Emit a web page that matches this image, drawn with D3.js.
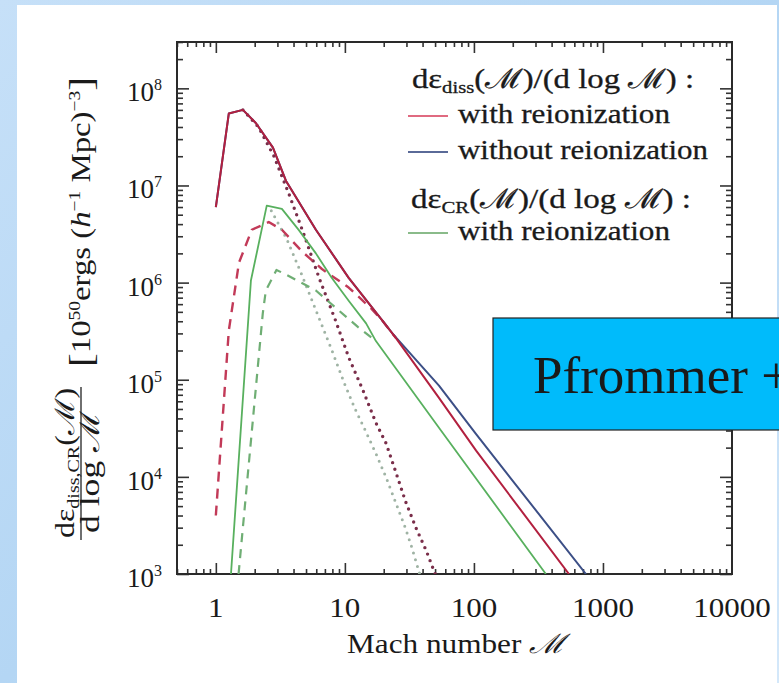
<!DOCTYPE html>
<html>
<head>
<meta charset="utf-8">
<script src="https://cdn.jsdelivr.net/npm/d3@7"></script>
<style>
  html, body { margin: 0; padding: 0; }
  body { width: 779px; height: 683px; overflow: hidden; }
  text { font-family: "Liberation Serif", "Times New Roman", "DejaVu Serif", serif; fill: #1a1a1a; }
</style>
</head>
<body>
<div id="chart"></div>
<script>
// Mach number ticks and decade exponents on the energy axis
var xTickValues = [1, 10, 100, 1000, 10000];
var xTickLabels = ["1", "10", "100", "1000", "10000"];
var yTickExps = [3, 4, 5, 6, 7, 8];

// [Mach number, energy per log Mach bin]
var dissWithReion = [[1, 6.0e6], [1.26, 5.5e7], [1.62, 6.0e7], [2.04, 4.4e7], [2.77, 2.45e7],
  [3.49, 1.12e7], [5.96, 3.5e6], [10.7, 1.12e6], [19.4, 4.1e5], [24.8, 2.7e5],
  [53.6, 6.5e4], [104, 1.86e4], [545, 1.0e3]];
var dissNoReion = [[1, 6.0e6], [1.26, 5.5e7], [1.62, 6.0e7], [2.04, 4.4e7], [2.77, 2.45e7],
  [3.49, 1.12e7], [5.96, 3.5e6], [10.7, 1.12e6], [19.4, 4.1e5], [23.6, 2.95e5],
  [53.6, 8.7e4], [104, 2.75e4], [738, 1.0e3]];
var crWithReion = [[1.31, 1.0e3], [1.87, 1.05e6], [2.48, 6.2e6], [3.25, 5.75e6], [4.4, 3.47e6],
  [5.96, 2.0e6], [7.9, 1.12e6], [10.7, 6.5e5], [14.6, 3.8e5], [17.4, 2.5e5],
  [53.6, 3.2e4], [361, 1.0e3]];
var dissDashed = [[1.0, 4.0e3], [1.26, 3.2e5], [1.51, 1.6e6], [1.9, 3.5e6], [2.57, 4.2e6],
  [3.25, 3.5e6], [4.64, 2.1e6], [6.64, 1.38e6], [10.7, 8.9e5], [15.8, 5.5e5], [19.4, 4.1e5], [24.8, 2.7e5]];
var crDashed = [[1.5, 1.0e3], [2.31, 4.8e5], [2.44, 8.3e5], [2.95, 1.35e6], [3.55, 1.2e6],
  [5.96, 8.3e5], [8.5, 5.5e5], [12.6, 3.5e5], [17.4, 2.5e5]];
var dissDotted = [[1.62, 6.0e7], [2.14, 4.0e7], [2.82, 2.0e7], [3.72, 7.9e6], [4.79, 3.2e6],
  [6.31, 1.12e6], [8.51, 4.0e5], [10.7, 1.7e5], [13.8, 7.8e4], [17.4, 3.6e4], [20.9, 2.2e4],
  [25.1, 1.07e4], [29.5, 5.6e3], [35.5, 3.0e3], [42.7, 1.74e3], [50.1, 1.0e3]];
var crDotted = [[2.69, 5.5e6], [3.55, 2.8e6], [4.57, 1.26e6], [6.03, 5.0e5], [7.94, 2.0e5],
  [10.0, 8.9e4], [12.0, 5.0e4], [14.5, 2.95e4], [17.4, 1.74e4], [20.9, 9.8e3], [25.1, 5.2e3],
  [29.5, 2.95e3], [33.1, 1.86e3], [38.0, 1.0e3]];

var legendRows = ["with reionization", "without reionization", "with reionization"];

var svgWidth = 779;
var svgHeight = 683;

// plot frame in page pixels
var frame = { left: 177, right: 732, top: 42, bottom: 574 };

var svg = d3.select("#chart").append("svg")
  .attr("width", svgWidth)
  .attr("height", svgHeight);

// slide background
var defs = svg.append("defs");
var grad = defs.append("linearGradient").attr("id", "bg").attr("x1", 0).attr("y1", 0).attr("x2", 1).attr("y2", 1);
grad.append("stop").attr("offset", "0%").attr("stop-color", "#c6e0f8");
grad.append("stop").attr("offset", "50%").attr("stop-color", "#b4d6f4");
grad.append("stop").attr("offset", "100%").attr("stop-color", "#d4e8fa");
svg.append("rect").attr("width", svgWidth).attr("height", svgHeight).attr("fill", "url(#bg)");
svg.append("rect").attr("x", 17).attr("y", 5).attr("width", 760).attr("height", 678).attr("fill", "#ffffff");

defs.append("clipPath").attr("id", "plotclip").append("rect")
  .attr("x", frame.left).attr("y", frame.top)
  .attr("width", frame.right - frame.left).attr("height", frame.bottom - frame.top);

var x = d3.scaleLog().domain([0.5, 10000]).range([frame.left, frame.right]);
var y = d3.scaleLog().domain([1e3, 3e8]).range([frame.bottom, frame.top]);

// minor tick values
var xMinor = [];
[0.1, 1, 10, 100, 1000].forEach(function(d) {
  for (var k = 2; k <= 9; k++) { var v = d * k; if (v >= 0.5 && v < 10000) xMinor.push(v); }
});
var yMinor = [];
[1e3, 1e4, 1e5, 1e6, 1e7, 1e8].forEach(function(d) {
  for (var k = 2; k <= 9; k++) { var v = d * k; if (v <= 3e8) yMinor.push(v); }
});
var yMajor = yTickExps.map(function(e) { return Math.pow(10, e); });

function tickAxis(axis, transform) {
  var g = svg.append("g").attr("transform", transform).call(axis);
  g.select(".domain").remove();
  g.selectAll(".tick line").attr("stroke", "#333").attr("stroke-width", 1.6);
  g.selectAll(".tick text").remove();
  return g;
}

// ticks on all four sides, pointing inward
var xMajorInside = xTickValues.filter(function(d) { return d < 10000; });
tickAxis(d3.axisBottom(x).tickValues(xMajorInside).tickSize(-11), "translate(0," + frame.bottom + ")");
tickAxis(d3.axisBottom(x).tickValues(xMinor).tickSize(-5), "translate(0," + frame.bottom + ")");
tickAxis(d3.axisTop(x).tickValues(xMajorInside).tickSize(-11), "translate(0," + frame.top + ")");
tickAxis(d3.axisTop(x).tickValues(xMinor).tickSize(-5), "translate(0," + frame.top + ")");
tickAxis(d3.axisLeft(y).tickValues(yMajor).tickSize(-12), "translate(" + frame.left + ",0)");
tickAxis(d3.axisLeft(y).tickValues(yMinor).tickSize(-6), "translate(" + frame.left + ",0)");
tickAxis(d3.axisRight(y).tickValues(yMajor).tickSize(-12), "translate(" + frame.right + ",0)");
tickAxis(d3.axisRight(y).tickValues(yMinor).tickSize(-6), "translate(" + frame.right + ",0)");

svg.append("rect")
  .attr("x", frame.left).attr("y", frame.top)
  .attr("width", frame.right - frame.left).attr("height", frame.bottom - frame.top)
  .attr("fill", "none").attr("stroke", "#2a2a2a").attr("stroke-width", 2);

// x tick labels (the picture is stretched a little sideways)
svg.selectAll(".xlab").data(xTickValues).enter().append("text")
  .attr("x", function(d) { return x(d); })
  .attr("y", 617)
  .attr("text-anchor", "middle")
  .attr("font-size", 28)
  .attr("textLength", function(d, i) { return xTickLabels[i].length * 15.5; })
  .attr("lengthAdjust", "spacingAndGlyphs")
  .text(function(d, i) { return xTickLabels[i]; });

// y tick labels 10^n
var ylab = svg.selectAll(".ylab").data(yTickExps).enter().append("text")
  .attr("x", 127)
  .attr("y", function(d) { return y(Math.pow(10, d)) + 13; })
  .attr("font-size", 27);
ylab.append("tspan").text("10");
ylab.append("tspan").attr("dy", -11).attr("font-size", 16).text(function(d) { return d; });

// x axis title
var xt = svg.append("text").attr("x", 456).attr("y", 653).attr("text-anchor", "middle").attr("font-size", 27)
  .attr("textLength", 218).attr("lengthAdjust", "spacingAndGlyphs");
xt.append("tspan").text("Mach number ");
xt.append("tspan").attr("font-style", "italic").text("ℳ");

// y axis title: fraction plus units, rotated
var numer = svg.append("text").attr("transform", "translate(74,463) rotate(-90)").attr("text-anchor", "middle").attr("font-size", 27)
  .attr("textLength", 150).attr("lengthAdjust", "spacingAndGlyphs");
numer.append("tspan").text("dε");
numer.append("tspan").attr("dy", 5).attr("font-size", 17).text("diss,CR");
numer.append("tspan").attr("dy", -5).text("(ℳ)");
svg.append("line").attr("x1", 81).attr("x2", 81).attr("y1", 387).attr("y2", 540).attr("stroke", "#222").attr("stroke-width", 1.3);
svg.append("text").attr("transform", "translate(99,472) rotate(-90)").attr("text-anchor", "middle").attr("font-size", 27)
  .attr("textLength", 122).attr("lengthAdjust", "spacingAndGlyphs").text("d log ℳ");
var units = svg.append("text").attr("transform", "translate(90,222) rotate(-90)").attr("text-anchor", "middle").attr("font-size", 27)
  .attr("textLength", 290).attr("lengthAdjust", "spacingAndGlyphs");
units.append("tspan").attr("font-size", 34).attr("dy", 2).text("[");
units.append("tspan").attr("dy", -2).text("10");
units.append("tspan").attr("dy", -10).attr("font-size", 16).text("50");
units.append("tspan").attr("dy", 10).text("ergs (");
units.append("tspan").attr("font-style", "italic").text("h");
units.append("tspan").attr("dy", -10).attr("font-size", 16).text("−1");
units.append("tspan").attr("dy", 10).text(" Mpc)");
units.append("tspan").attr("dy", -10).attr("font-size", 16).text("−3");
units.append("tspan").attr("dy", 12).attr("font-size", 34).text("]");

// curves
var line = d3.line()
  .x(function(d) { return x(d[0]); })
  .y(function(d) { return y(d[1]); });

var curves = svg.append("g").attr("clip-path", "url(#plotclip)");

function drawCurve(data, color, width, dash, cap) {
  curves.append("path")
    .attr("d", line(data))
    .attr("fill", "none")
    .attr("stroke", color)
    .attr("stroke-width", width)
    .attr("stroke-dasharray", dash)
    .attr("stroke-linecap", cap || "butt")
    .attr("stroke-linejoin", "round");
}

drawCurve(crDotted, "#9fb3a4", 3, "0,7", "round");
drawCurve(dissDotted, "#7a2e4a", 3.4, "0,7", "round");
drawCurve(crDashed, "#6fae74", 2.2, "9,7");
drawCurve(dissDashed, "#c23a58", 2.4, "10,7");
drawCurve(crWithReion, "#58b05e", 1.8, null);
drawCurve(dissNoReion, "#3c4f86", 2, null);
drawCurve(dissWithReion, "#b2203f", 2, null);

// legend
var leg1 = svg.append("text").attr("x", 412).attr("y", 88).attr("font-size", 27).attr("stroke", "#1a1a1a").attr("stroke-width", 0.3)
  .attr("textLength", 282).attr("lengthAdjust", "spacingAndGlyphs");
leg1.append("tspan").text("dε");
leg1.append("tspan").attr("dy", 5).attr("font-size", 17).text("diss");
leg1.append("tspan").attr("dy", -5).text("(ℳ)/(d log ℳ) :");

var leg2 = svg.append("text").attr("x", 411).attr("y", 208).attr("font-size", 27).attr("stroke", "#1a1a1a").attr("stroke-width", 0.3)
  .attr("textLength", 280).attr("lengthAdjust", "spacingAndGlyphs");
leg2.append("tspan").text("dε");
leg2.append("tspan").attr("dy", 5).attr("font-size", 17).text("CR");
leg2.append("tspan").attr("dy", -5).text("(ℳ)/(d log ℳ) :");

var legendLines = [
  { y: 116, color: "#e06a80", label: legendRows[0], len: 212 },
  { y: 152, color: "#5a6a98", label: legendRows[1], len: 250 },
  { y: 233, color: "#8abb8a", label: legendRows[2], len: 212 }
];
legendLines.forEach(function(r) {
  svg.append("line").attr("x1", 408).attr("x2", 448).attr("y1", r.y).attr("y2", r.y)
    .attr("stroke", r.color).attr("stroke-width", 2);
  svg.append("text").attr("x", 458).attr("y", r.y + 7).attr("font-size", 27)
    .attr("stroke", "#1a1a1a").attr("stroke-width", 0.3)
    .attr("textLength", r.len).attr("lengthAdjust", "spacingAndGlyphs")
    .text(r.label);
});

// overlay label box, running off the right edge as in the slide
svg.append("rect").attr("x", 493).attr("y", 318).attr("width", 300).attr("height", 112)
  .attr("fill", "#00bbfb").attr("stroke", "#222").attr("stroke-width", 1.2);
svg.append("text").attr("x", 533).attr("y", 393).attr("font-size", 53).attr("fill", "#000").text("Pfrommer +");
</script>
</body>
</html>
